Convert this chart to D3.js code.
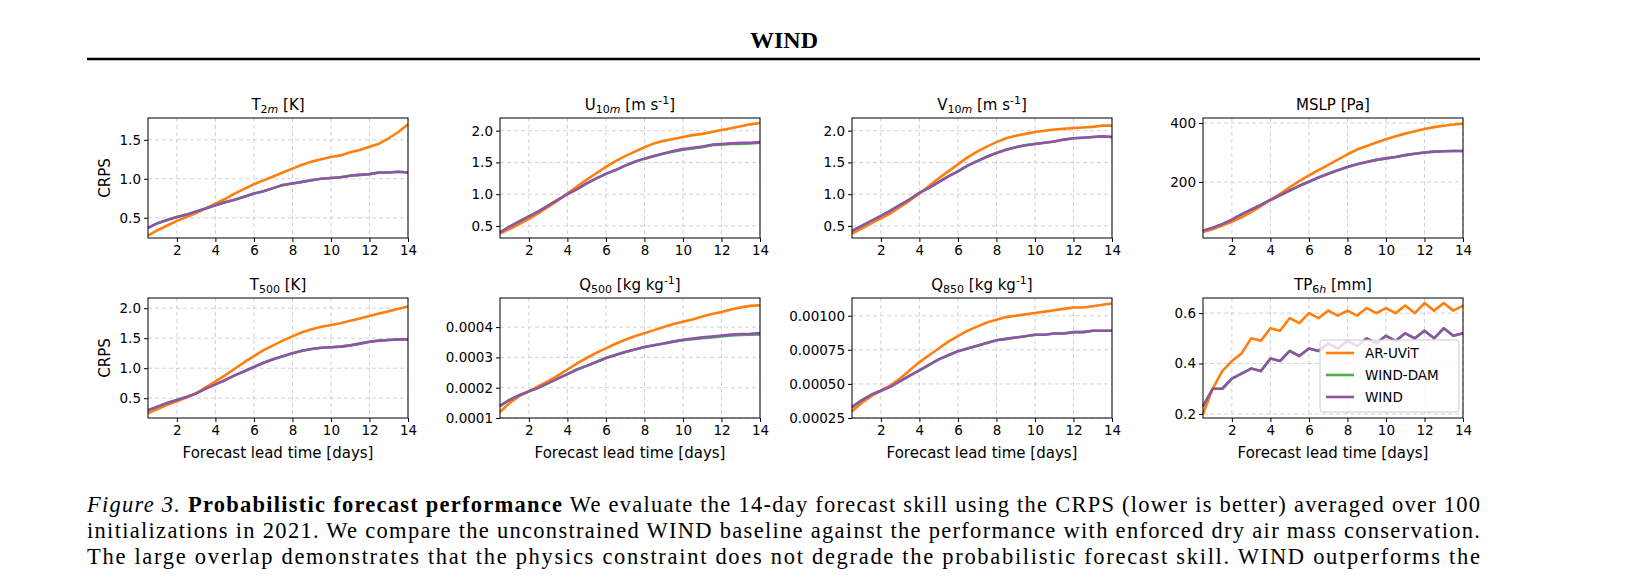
<!DOCTYPE html>
<html><head><meta charset="utf-8">
<script src="https://cdn.jsdelivr.net/npm/d3@7"></script>
<style>body{margin:0;background:#fff}</style></head>
<body><svg id="c" width="1639" height="584"></svg>
<script>
const days=[0.5,1,1.5,2,2.5,3,3.5,4,4.5,5,5.5,6,6.5,7,7.5,8,8.5,9,9.5,10,10.5,11,11.5,12,12.5,13,13.5,14];
const xTicks=[2,4,6,8,10,12,14];
const t2mAR=[0.27,0.34,0.40,0.46,0.51,0.56,0.62,0.68,0.74,0.81,0.87,0.93,0.98,1.03,1.08,1.13,1.18,1.22,1.25,1.28,1.30,1.34,1.37,1.41,1.45,1.52,1.60,1.70];
const t2mW=[0.37,0.43,0.47,0.51,0.54,0.58,0.62,0.66,0.70,0.73,0.77,0.81,0.84,0.88,0.92,0.94,0.96,0.98,1.00,1.01,1.02,1.04,1.05,1.06,1.08,1.08,1.09,1.08];
const u10AR=[0.38,0.45,0.53,0.61,0.70,0.80,0.90,1.01,1.12,1.23,1.33,1.43,1.52,1.60,1.67,1.74,1.80,1.84,1.87,1.90,1.93,1.95,1.98,2.01,2.04,2.07,2.10,2.12];
const u10W=[0.40,0.49,0.57,0.65,0.73,0.82,0.91,1.00,1.08,1.17,1.25,1.32,1.38,1.45,1.51,1.56,1.60,1.64,1.68,1.71,1.73,1.75,1.78,1.79,1.80,1.81,1.81,1.82];
const u10D=[0.40,0.49,0.57,0.65,0.73,0.82,0.91,1.00,1.08,1.17,1.25,1.32,1.38,1.45,1.51,1.56,1.60,1.64,1.67,1.70,1.72,1.74,1.77,1.78,1.79,1.79,1.80,1.81];
const v10AR=[0.38,0.46,0.54,0.62,0.70,0.80,0.90,1.01,1.13,1.25,1.36,1.47,1.58,1.67,1.75,1.82,1.88,1.92,1.95,1.98,2.00,2.02,2.03,2.04,2.05,2.06,2.08,2.08];
const v10W=[0.42,0.50,0.58,0.66,0.74,0.83,0.92,1.02,1.10,1.19,1.28,1.36,1.45,1.52,1.59,1.65,1.70,1.74,1.77,1.79,1.81,1.83,1.86,1.88,1.89,1.90,1.91,1.90];
const mslpAR=[30,40,52,65,80,98,118,139,160,182,203,222,240,258,276,294,310,322,334,345,355,364,372,380,386,391,395,398];
const mslpW=[35,45,57,72,90,106,122,139,155,171,187,201,215,228,240,251,260,268,275,280,285,291,296,300,303,304,305,305];
const t500AR=[0.25,0.32,0.39,0.45,0.51,0.58,0.68,0.78,0.88,0.99,1.10,1.20,1.30,1.38,1.46,1.53,1.60,1.65,1.69,1.72,1.75,1.79,1.83,1.87,1.91,1.95,1.99,2.03];
const t500W=[0.30,0.36,0.42,0.47,0.52,0.58,0.66,0.73,0.80,0.88,0.95,1.02,1.09,1.15,1.20,1.25,1.29,1.32,1.34,1.35,1.36,1.38,1.41,1.44,1.46,1.47,1.48,1.48];
const q500AR=[0.000120,0.000150,0.000172,0.000188,0.000205,0.000222,0.000240,0.000260,0.000280,0.000298,0.000315,0.000330,0.000345,0.000358,0.000370,0.000380,0.000390,0.000400,0.000410,0.000418,0.000425,0.000435,0.000443,0.000450,0.000458,0.000465,0.000470,0.000472];
const q500W=[0.000140,0.000160,0.000175,0.000188,0.000200,0.000215,0.000230,0.000245,0.000260,0.000272,0.000285,0.000298,0.000308,0.000318,0.000326,0.000334,0.000340,0.000346,0.000352,0.000358,0.000362,0.000366,0.000369,0.000372,0.000375,0.000377,0.000378,0.000380];
const q500D=[0.000140,0.000160,0.000175,0.000188,0.000200,0.000215,0.000230,0.000245,0.000260,0.000272,0.000285,0.000298,0.000308,0.000318,0.000326,0.000334,0.000340,0.000346,0.000352,0.000357,0.000360,0.000363,0.000366,0.000369,0.000372,0.000374,0.000375,0.000376];
const q850AR=[0.00030,0.00036,0.00041,0.00045,0.00049,0.00054,0.00060,0.00066,0.00071,0.00076,0.00081,0.00085,0.00089,0.00092,0.00095,0.00097,0.00099,0.00100,0.00101,0.00102,0.00103,0.00104,0.00105,0.00106,0.00106,0.00107,0.00108,0.00109];
const q850W=[0.00033,0.00038,0.00042,0.00045,0.00048,0.00052,0.00056,0.00060,0.00064,0.00068,0.00071,0.00074,0.00076,0.00078,0.00080,0.00082,0.00083,0.00084,0.00085,0.00086,0.00086,0.00087,0.00087,0.00088,0.00088,0.00089,0.00089,0.00089];
const tpAR=[0.2,0.3,0.37,0.41,0.44,0.5,0.49,0.54,0.53,0.58,0.56,0.6,0.58,0.61,0.59,0.61,0.59,0.62,0.6,0.62,0.6,0.63,0.6,0.64,0.61,0.64,0.61,0.63];
const tpW=[0.23,0.3,0.3,0.34,0.36,0.38,0.37,0.42,0.41,0.45,0.43,0.46,0.45,0.48,0.46,0.49,0.47,0.5,0.48,0.51,0.49,0.52,0.5,0.53,0.5,0.54,0.51,0.52];
const seriesNames=["AR-UViT","WIND-DAM","WIND"];
const colors={"AR-UViT":"#ff7f0e","WIND-DAM":"#4daf4a","WIND":"#8e55a6"};
const captionLines=[
 "initializations in 2021. We compare the unconstrained WIND baseline against the performance with enforced dry air mass conservation.",
 "The large overlap demonstrates that the physics constraint does not degrade the probabilistic forecast skill. WIND outperforms the"];

const panels=[
 {t:["T","2","m"," [K]"],ar:t2mAR,w:t2mW,d:t2mW,dom:[0.24,1.78],ticks:[0.5,1.0,1.5],f:1},
 {t:["U","10","m"," [m s","-1","]"],ar:u10AR,w:u10W,d:u10D,dom:[0.31,2.2],ticks:[0.5,1.0,1.5,2.0],f:1},
 {t:["V","10","m"," [m s","-1","]"],ar:v10AR,w:v10W,d:v10W,dom:[0.31,2.2],ticks:[0.5,1.0,1.5,2.0],f:1},
 {t:["MSLP [Pa]"],ar:mslpAR,w:mslpW,d:mslpW,dom:[10,417],ticks:[200,400],f:0},
 {t:["T","500",""," [K]"],ar:t500AR,w:t500W,d:t500W,dom:[0.17,2.17],ticks:[0.5,1.0,1.5,2.0],f:1},
 {t:["Q","500",""," [kg kg","-1","]"],ar:q500AR,w:q500W,d:q500D,dom:[0.0001,0.000496],ticks:[0.0001,0.0002,0.0003,0.0004],f:4},
 {t:["Q","850",""," [kg kg","-1","]"],ar:q850AR,w:q850W,d:q850W,dom:[0.00025,0.00113],ticks:[0.00025,0.0005,0.00075,0.001],f:5},
 {t:["TP","6","h"," [mm]"],ar:tpAR,w:tpW,d:tpW,dom:[0.184,0.66],ticks:[0.2,0.4,0.6],f:1}
];
const svg=d3.select("#c");
const F="DejaVu Sans";
svg.append("text").attr("x",784).attr("y",48).attr("text-anchor","middle").attr("font-family","Liberation Serif").attr("font-weight","bold").attr("font-size",24).text("WIND");
svg.append("line").attr("x1",87).attr("x2",1480).attr("y1",59).attr("y2",59).attr("stroke","#000").attr("stroke-width",2.5);
const lefts=[148,500,852,1203], tops=[118,298], W=260,H=120;
panels.forEach((p,i)=>{
 const x0=lefts[i%4], y0=tops[Math.floor(i/4)];
 const g=svg.append("g").attr("transform",`translate(${x0},${y0})`);
 const x=d3.scaleLinear().domain([0.5,14]).range([0,W]);
 const y=d3.scaleLinear().domain(p.dom).range([H,0]);
 g.selectAll(".gx").data(xTicks).join("line").attr("x1",d=>x(d)).attr("x2",d=>x(d)).attr("y1",0).attr("y2",H).attr("stroke","#c8c8c8").attr("stroke-dasharray","4,3").attr("stroke-width",0.8);
 g.selectAll(".gy").data(p.ticks).join("line").attr("y1",d=>y(d)).attr("y2",d=>y(d)).attr("x1",0).attr("x2",W).attr("stroke","#c8c8c8").attr("stroke-dasharray","4,3").attr("stroke-width",0.8);
 const line=d3.line().x((d,j)=>x(days[j])).y(d=>y(d));
 [["WIND-DAM",p.d],["AR-UViT",p.ar],["WIND",p.w]].forEach(([n,v])=>{
  g.append("path").attr("d",line(v)).attr("fill","none").attr("stroke",colors[n]).attr("stroke-width",2.6).attr("stroke-linejoin","round");
 });
 const ax=g.append("g").attr("transform",`translate(0,${H})`).call(d3.axisBottom(x).tickValues(xTicks).tickSize(4).tickPadding(3).tickFormat(d3.format("d")));
 const ay=g.append("g").call(d3.axisLeft(y).tickValues(p.ticks).tickSize(4).tickPadding(3).tickFormat(d=>d.toFixed(p.f)));
 [ax,ay].forEach(a=>{a.select(".domain").remove();a.selectAll("text").attr("font-family",F).attr("font-size",13.5).attr("fill","#000");a.selectAll("line").attr("stroke","#000");});
 g.append("rect").attr("width",W).attr("height",H).attr("fill","none").attr("stroke","#000").attr("stroke-width",1);
 const tt=g.append("text").attr("x",W/2).attr("y",-8).attr("text-anchor","middle").attr("font-family",F).attr("font-size",15);
 if(p.t.length===1) tt.text(p.t[0]); else {
  tt.append("tspan").text(p.t[0]);
  tt.append("tspan").attr("font-size",11).attr("dy",3).text(p.t[1]);
  if(p.t[2]) tt.append("tspan").attr("font-size",11).attr("font-style","italic").text(p.t[2]);
  tt.append("tspan").attr("dy",-3).text(p.t[3]);
  if(p.t[4]){tt.append("tspan").attr("font-size",11).attr("dy",-6).text(p.t[4]);tt.append("tspan").attr("dy",6).text(p.t[5]);}
 }
 if(i%4===0) g.append("text").attr("transform",`translate(-38,${H/2}) rotate(-90)`).attr("text-anchor","middle").attr("font-family",F).attr("font-size",15).text("CRPS");
 if(i>=4) g.append("text").attr("x",W/2).attr("y",H+40).attr("text-anchor","middle").attr("font-family",F).attr("font-size",15).text("Forecast lead time [days]");
 if(i===7){
  const lg=g.append("g").attr("transform","translate(117,42)");
  lg.append("rect").attr("width",139).attr("height",72).attr("rx",3).attr("fill","rgba(255,255,255,0.8)").attr("stroke","#ccc");
  seriesNames.forEach((n,k)=>{
   lg.append("line").attr("x1",6).attr("x2",34).attr("y1",13+k*22).attr("y2",13+k*22).attr("stroke",colors[n]).attr("stroke-width",2.6);
   lg.append("text").attr("x",45).attr("y",18+k*22).attr("font-family",F).attr("font-size",13.5).text(n);
  });
 }
});
const cap=svg.append("g").attr("font-family","Liberation Serif").attr("font-size",22.5).attr("fill","#000");
const l1=cap.append("text").attr("x",87).attr("y",512).attr("textLength",1393).attr("lengthAdjust","spacing");
l1.append("tspan").attr("font-style","italic").text("Figure 3.");
l1.append("tspan").attr("font-weight","bold").text(" Probabilistic forecast performance");
l1.append("tspan").text(" We evaluate the 14-day forecast skill using the CRPS (lower is better) averaged over 100");
captionLines.forEach((t,k)=>cap.append("text").attr("x",87).attr("y",538+k*26).attr("textLength",1393).attr("lengthAdjust","spacing").text(t));
</script></body></html>
